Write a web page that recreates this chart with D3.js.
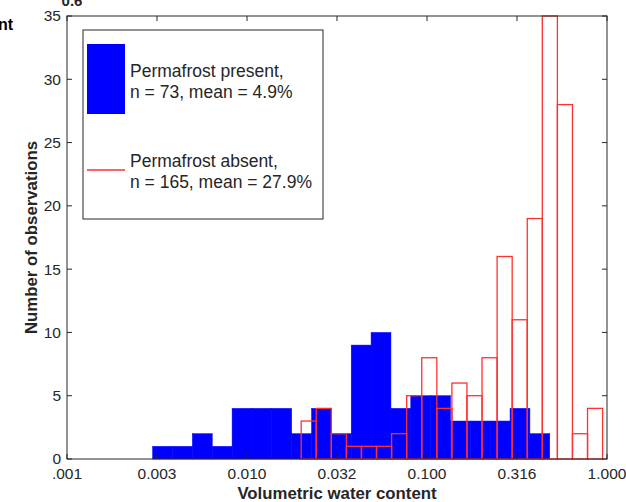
<!DOCTYPE html>
<html>
<head>
<meta charset="utf-8">
<script src="https://cdn.jsdelivr.net/npm/d3@7"></script>
<style>
  body { margin: 0; background: #fff; }
  svg { display: block; font-family: "Liberation Sans", Arial, Helvetica, sans-serif; }
</style>
</head>
<body>
<div id="chart"></div>
<script>
// bin edges (volumetric water content) and counts
const presentEdges = [0.00299, 0.003858, 0.004972, 0.006409, 0.008264, 0.01065, 0.01374,
  0.01771, 0.02283, 0.02943, 0.03793, 0.0489, 0.06304, 0.08126, 0.1048, 0.1351,
  0.1741, 0.2244, 0.2893, 0.373, 0.4808];
const presentCounts = [1, 1, 2, 1, 4, 4, 4, 2, 4, 2, 9, 10, 4, 5, 5, 3, 3, 3, 4, 2];

const absentEdges = [0.02, 0.02425, 0.0294, 0.03566, 0.04323, 0.05243, 0.06358, 0.07711,
  0.0935, 0.1134, 0.1375, 0.1667, 0.2022, 0.2452, 0.2973, 0.3605, 0.4371, 0.5301,
  0.6428, 0.7795, 0.9451];
const absentCounts = [3, 4, 2, 1, 1, 1, 2, 5, 8, 4, 6, 5, 8, 16, 11, 19, 35, 28, 2, 4];

const xTicks = [0.001, 0.003162, 0.01, 0.03162, 0.1, 0.3162, 1];
const xTickLabels = ['.001', '0.003', '0.010', '0.032', '0.100', '0.316', '1.000'];
const yTicks = [0, 5, 10, 15, 20, 25, 30, 35];

const legendItems = [
  { lines: ['Permafrost present,', 'n = 73, mean = 4.9%'], kind: 'patch' },
  { lines: ['Permafrost absent,', 'n = 165, mean = 27.9%'], kind: 'line' }
];

const width = 626, height = 502;
const margin = { top: 16, right: 19, bottom: 43, left: 67 };
const axisColor = '#262626';
const redColor = '#ff3030';

const svg = d3.select('#chart').append('svg')
  .attr('width', width).attr('height', height);

const xScale = d3.scaleLog().domain([0.001, 1]).range([margin.left, width - margin.right]);
const yScale = d3.scaleLinear().domain([0, 35]).range([height - margin.bottom, margin.top]);

const toBins = (edges, counts) => counts.map((c, i) => ({ x0: edges[i], x1: edges[i + 1], n: c }));

// blue filled histogram
svg.append('g')
  .selectAll('rect')
  .data(toBins(presentEdges, presentCounts).filter(d => d.n > 0))
  .join('rect')
  .attr('x', d => xScale(d.x0))
  .attr('width', d => xScale(d.x1) - xScale(d.x0))
  .attr('y', d => yScale(d.n))
  .attr('height', d => yScale(0) - yScale(d.n))
  .attr('fill', '#0000ff')
  .attr('stroke', '#0000ff')
  .attr('stroke-width', 0.5);

// red outlined histogram
svg.append('g')
  .selectAll('rect')
  .data(toBins(absentEdges, absentCounts))
  .join('rect')
  .attr('x', d => xScale(d.x0))
  .attr('width', d => xScale(d.x1) - xScale(d.x0))
  .attr('y', d => yScale(d.n))
  .attr('height', d => yScale(0) - yScale(d.n))
  .attr('fill', 'none')
  .attr('stroke', redColor)
  .attr('stroke-width', 1.3);

// axes, MATLAB-like box with inward ticks
const x0 = xScale.range()[0], x1 = xScale.range()[1];
const y0 = yScale.range()[0], y1 = yScale.range()[1];
const tickLen = 5;

const axes = svg.append('g').attr('stroke', axisColor).attr('stroke-width', 1).attr('fill', 'none');
axes.append('rect').attr('x', x0).attr('y', y1).attr('width', x1 - x0).attr('height', y0 - y1);

xTicks.forEach(t => {
  const x = xScale(t);
  axes.append('line').attr('x1', x).attr('x2', x).attr('y1', y0).attr('y2', y0 - tickLen);
  axes.append('line').attr('x1', x).attr('x2', x).attr('y1', y1).attr('y2', y1 + tickLen);
});
yTicks.forEach(t => {
  const y = yScale(t);
  axes.append('line').attr('x1', x0).attr('x2', x0 + tickLen).attr('y1', y).attr('y2', y);
  axes.append('line').attr('x1', x1).attr('x2', x1 - tickLen).attr('y1', y).attr('y2', y);
});

svg.append('g').selectAll('text')
  .data(xTicks)
  .join('text')
  .attr('x', d => xScale(d))
  .attr('y', y0 + 20)
  .attr('text-anchor', 'middle')
  .attr('font-size', 15.5)
  .attr('fill', axisColor)
  .text((d, i) => xTickLabels[i]);

svg.append('g').selectAll('text')
  .data(yTicks)
  .join('text')
  .attr('x', x0 - 6)
  .attr('y', d => yScale(d))
  .attr('dy', '0.35em')
  .attr('text-anchor', 'end')
  .attr('font-size', 15.5)
  .attr('fill', axisColor)
  .text(d => d);

// axis titles
svg.append('text')
  .attr('x', (x0 + x1) / 2)
  .attr('y', 499)
  .attr('text-anchor', 'middle')
  .attr('font-size', 16.8)
  .attr('font-weight', 'bold')
  .attr('fill', axisColor)
  .text('Volumetric water content');

svg.append('text')
  .attr('transform', `translate(37, ${(y0 + y1) / 2}) rotate(-90)`)
  .attr('text-anchor', 'middle')
  .attr('font-size', 16.8)
  .attr('font-weight', 'bold')
  .attr('fill', axisColor)
  .text('Number of observations');

// leftovers from the neighbouring panel
svg.append('text').attr('x', 72).attr('y', 6).attr('text-anchor', 'middle')
  .attr('font-size', 15).attr('font-weight', 'bold').attr('fill', axisColor).text('0.6');
svg.append('text').attr('x', -2).attr('y', 30)
  .attr('font-size', 16).attr('font-weight', 'bold').attr('fill', '#000').text('nt');

// legend
const legend = svg.append('g');
legend.append('rect')
  .attr('x', 83).attr('y', 30).attr('width', 240).attr('height', 189)
  .attr('fill', '#fff').attr('stroke', axisColor).attr('stroke-width', 1);

legendItems.forEach((item, i) => {
  const g = legend.append('g').attr('transform', `translate(0, ${i * 90})`);
  if (item.kind === 'patch') {
    g.append('rect').attr('x', 87).attr('y', 44).attr('width', 38).attr('height', 70)
      .attr('fill', '#0000ff');
  } else {
    g.append('line').attr('x1', 87).attr('x2', 125).attr('y1', 80).attr('y2', 80)
      .attr('stroke', redColor).attr('stroke-width', 1.3);
  }
  g.selectAll('text.lbl')
    .data(item.lines)
    .join('text')
    .attr('class', 'lbl')
    .attr('x', 130)
    .attr('y', (d, j) => 77 + j * 20.5)
    .attr('font-size', 17.5)
    .attr('fill', axisColor)
    .text(d => d);
});
</script>
</body>
</html>
